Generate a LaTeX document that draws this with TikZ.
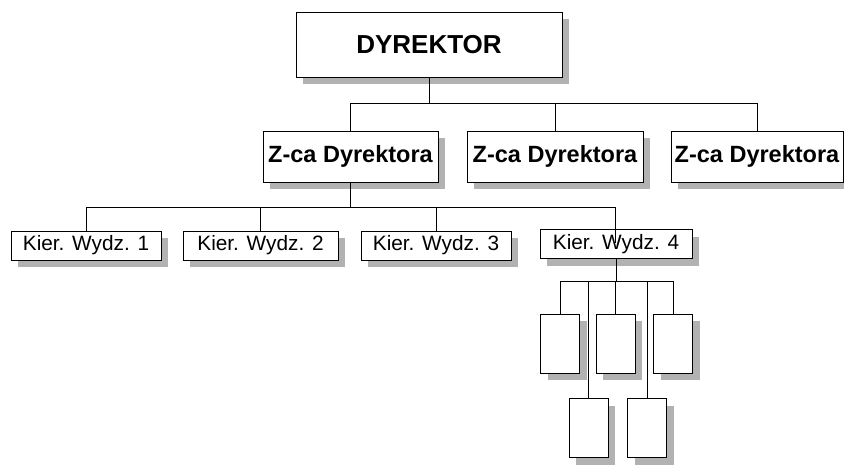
\documentclass[tikz,border=0pt]{standalone}
\usepackage{fontspec}
\setmainfont{Liberation Sans}
\usepackage{tikz}
\usetikzlibrary{shadows,calc}

\begin{document}
\begin{tikzpicture}[
  x=1pt, y=-1pt,
  line width=0.9pt,
  box/.style={draw, fill=white, inner sep=0pt, align=center,
              general shadow={fill=gray!60, shadow xshift=7pt, shadow yshift=-7pt}},
  head/.style={box, minimum width=266pt, minimum height=65pt,
               font=\fontsize{26}{31}\selectfont\bfseries},
  dep/.style={box, minimum height=51pt, font=\fontsize{23.5}{28}\selectfont\bfseries},
  kier/.style={box, minimum height=29pt, font=\fontsize{20.8}{25}\selectfont},
  cell/.style={box, minimum width=39pt, minimum height=59pt},
  link/.style={draw}
]
\useasboundingbox (0,0) rectangle (844,464);
\node[head] (dir) at (429,44.5) {DYREKTOR};
\node[dep, minimum width=175pt] (z1) at (350.5,156.5) {Z-ca Dyrektora};
\node[dep, minimum width=176pt] (z2) at (555,156.5) {Z-ca Dyrektora};
\node[dep, minimum width=172pt] (z3) at (757,156.5) {Z-ca Dyrektora};
\node[kier, minimum width=150pt] (k1) at (86,245.5) {Kier. Wydz. 1};
\node[kier, minimum width=155pt] (k2) at (260.5,245.5) {Kier. Wydz. 2};
\node[kier, minimum width=150pt] (k3) at (436,245.5) {Kier. Wydz. 3};
\node[kier, minimum width=152pt] (k4) at (616,244) {Kier. Wydz. 4};
\node[cell] (s1) at (560,343.5) {};
\node[cell] (s2) at (615.5,343.5) {};
\node[cell] (s3) at (673,343.5) {};
\node[cell] (b1) at (588.5,428) {};
\node[cell] (b2) at (647,428) {};
\coordinate (k4in) at ($(k4.north)+(-1,14)$);
\draw[link] (dir.south) -- ++(0,26) -| (z1.north);
\draw[link] (dir.south) -- ++(0,26) -| (z2.north);
\draw[link] (dir.south) -- ++(0,26) -| (z3.north);
\draw[link] (z1.south) -- ++(0,25) -| (k1.north);
\draw[link] (z1.south) -- ++(0,25) -| (k2.north);
\draw[link] (z1.south) -- ++(0,25) -| (k3.north);
\draw[link] (z1.south) -- ++(0,25) -| (k4in);
\draw[link] (k4.south) -- ++(0,22) -| (s1.north);
\draw[link] (k4.south) -- ++(0,22) -| (s2.north);
\draw[link] (k4.south) -- ++(0,22) -| (s3.north);
\draw[link] (k4.south) -- ++(0,22) -| (b1.north);
\draw[link] (k4.south) -- ++(0,22) -| (b2.north);
\end{tikzpicture}
\end{document}
